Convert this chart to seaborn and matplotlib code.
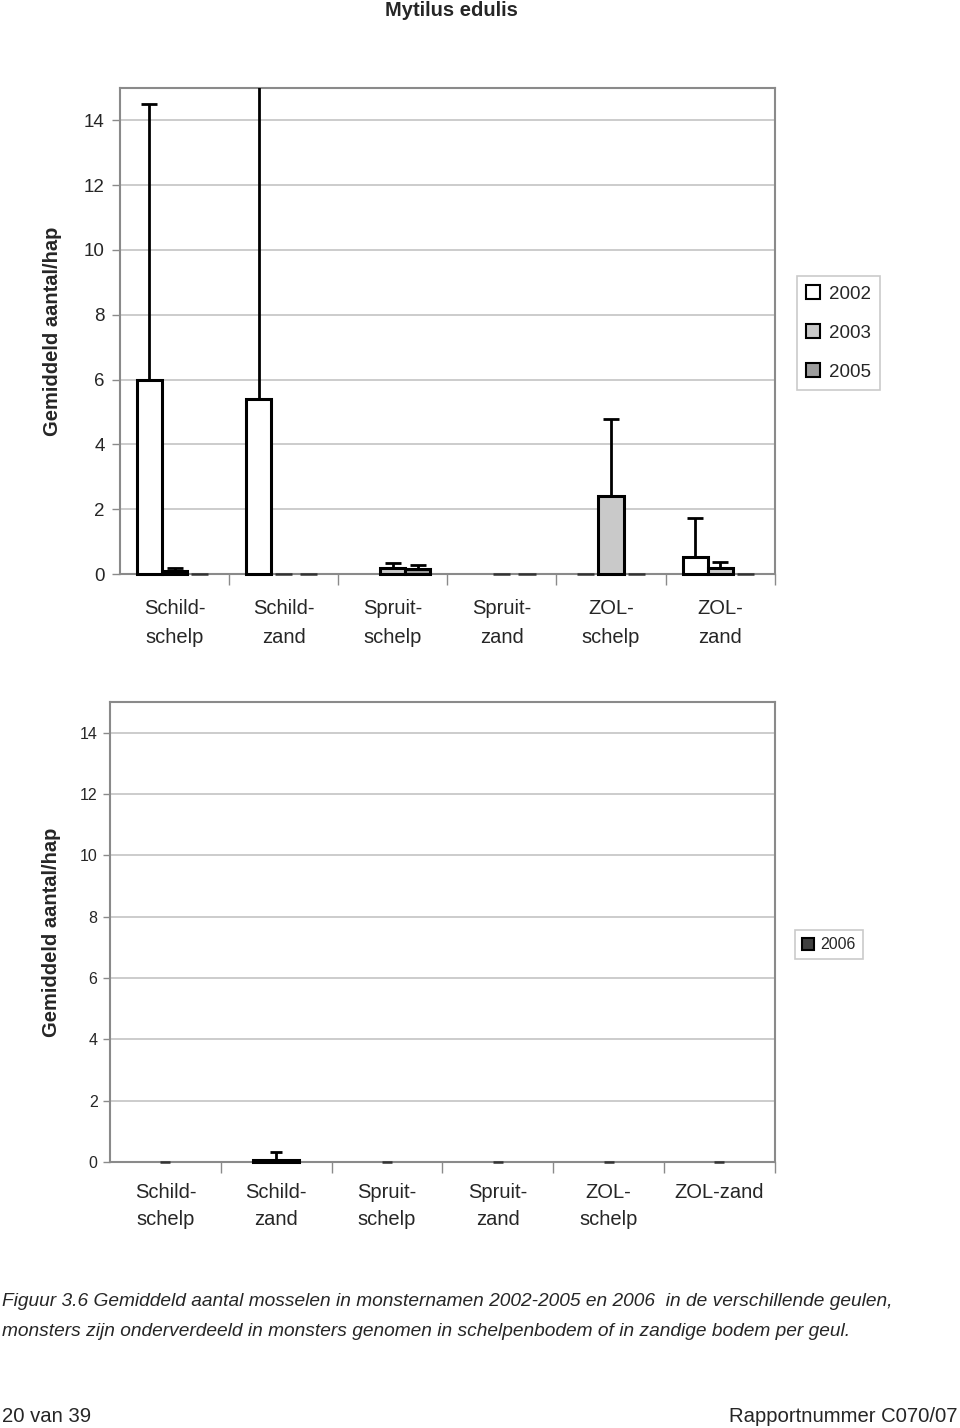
import numpy as np
import pandas as pd
import matplotlib
matplotlib.use("Agg")
import matplotlib.pyplot as plt
from matplotlib.patches import Patch
from matplotlib import font_manager
import seaborn as sns

# ---------------- data ----------------
categories = ["Schild-\nschelp", "Schild-\nzand", "Spruit-\nschelp", "Spruit-\nzand", "ZOL-\nschelp", "ZOL-\nzand"]
categories_2006 = ["Schild-\nschelp", "Schild-\nzand", "Spruit-\nschelp", "Spruit-\nzand", "ZOL-\nschelp", "ZOL-zand"]
years = ["2002", "2003", "2005"]

mean_2002 = [6.0, 5.4, np.nan, np.nan, 0.0, 0.52]
mean_2003 = [0.08, 0.0, 0.20, 0.0, 2.42, 0.20]
mean_2005 = [0.0, 0.0, 0.15, 0.0, 0.0, 0.0]
upper_2002 = [14.5, 17.0, np.nan, np.nan, np.nan, 1.72]
upper_2003 = [0.20, np.nan, 0.33, np.nan, 4.78, 0.38]
upper_2005 = [np.nan, np.nan, 0.27, np.nan, np.nan, np.nan]

mean_2006 = [0.0, 0.07, 0.0, 0.0, 0.0, 0.0]
upper_2006 = [np.nan, 0.33, np.nan, np.nan, np.nan, np.nan]

yticks = [0, 2, 4, 6, 8, 10, 12, 14]

colors = {"2002": "#ffffff", "2003": "#c9c9c9", "2005": "#9d9d9d"}
color_2006 = "#3f3f3f"

# ---------------- fonts ----------------
sns.set_style("white")
avail = {f.name for f in font_manager.fontManager.ttflist}
main_font = "Liberation Sans" if "Liberation Sans" in avail else "DejaVu Sans"
narrow_font = "Liberation Sans Narrow" if "Liberation Sans Narrow" in avail else main_font
plt.rcParams["font.family"] = [main_font, "DejaVu Sans"]

fig = plt.figure(figsize=(9.6, 14.28), dpi=100)

means = {"2002": mean_2002, "2003": mean_2003, "2005": mean_2005}
uppers = {"2002": upper_2002, "2003": upper_2003, "2005": upper_2005}
rows = []
for y in years:
    for c, v in zip(categories, means[y]):
        rows.append({"cat": c, "year": y, "val": v})
df = pd.DataFrame(rows)

df6 = pd.DataFrame({"cat": categories_2006, "val": mean_2006})


def style_axes(ax, ncat, ytick_size, ypad, ylen, xpad, lspace, zero_frac):
    ax.set_ylim(0, 15)
    ax.set_xlim(-0.5, ncat - 0.5)
    ax.set_yticks(yticks)
    ax.yaxis.grid(True, color="#c4c4c4", linewidth=1.2)
    ax.set_axisbelow(True)
    for s in ax.spines.values():
        s.set_visible(True)
        s.set_color("#8a8a8a")
        s.set_linewidth(1.5)
    ax.tick_params(axis="y", which="major", length=ylen, width=1, color="#8a8a8a",
                   labelsize=ytick_size, pad=ypad, left=True)
    ax.set_xticks(np.arange(ncat) + 0.5, minor=True)
    ax.tick_params(axis="x", which="minor", length=8, width=1, color="#8a8a8a", bottom=True)
    ax.tick_params(axis="x", which="major", length=0, labelsize=14.5, pad=xpad)
    for lab in ax.get_xticklabels():
        lab.set_linespacing(lspace)
    ax.set_xlabel("")
    for p in ax.patches:
        p.set_zorder(3)
        p.set_clip_on(False)
        h = p.get_height()
        if not np.isnan(h) and h == 0:
            # zero values show as a short dash, as in the original
            w = p.get_width()
            p.set_x(p.get_x() + w * (1 - zero_frac) / 2)
            p.set_width(w * zero_frac)
            p.set_linewidth(1.8)
            p.set_edgecolor("#333333")


def add_errbars(ax, container, ups, cap):
    for bar in container:
        cx = bar.get_x() + bar.get_width() / 2
        idx = int(round(cx))
        h = bar.get_height()
        up = ups[idx]
        if np.isnan(h) or np.isnan(up):
            continue
        ax.errorbar([cx], [h], yerr=[[0], [up - h]], fmt="none", ecolor="black",
                    elinewidth=2, capsize=cap, capthick=2, zorder=5)


# ---------------- top chart ----------------
ax1 = fig.add_axes([0.125, 0.598, 0.682, 0.3404])
sns.barplot(data=df, x="cat", y="val", hue="year", order=categories, hue_order=years,
            palette=colors, width=0.69, edgecolor="black", linewidth=2.2,
            errorbar=None, legend=False, ax=ax1, saturation=1)
for cont, y in zip(ax1.containers, years):
    add_errbars(ax1, cont, uppers[y], 6)
style_axes(ax1, len(categories), 13.5, 5, 6, 18, 1.65, 0.68)
ax1.set_ylabel("Gemiddeld aantal/hap", fontsize=14.5, fontweight="bold")
ax1.yaxis.set_label_coords(-0.089, 0.5)
handles = [Patch(facecolor=colors[y], edgecolor="black", linewidth=1.5, label=y) for y in years]
leg = ax1.legend(handles=handles, loc="upper left", bbox_to_anchor=(1.034, 0.613),
                 borderaxespad=0, frameon=True, fancybox=False, fontsize=13.5,
                 handlelength=0.75, handleheight=0.75, handletextpad=0.45,
                 labelspacing=1.15, borderpad=0.5)
leg.get_frame().set_edgecolor("#bdbdbd")
leg.get_frame().set_linewidth(1.2)

# ---------------- bottom chart ----------------
ax2 = fig.add_axes([0.1146, 0.1863, 0.6924, 0.3222])
sns.barplot(data=df6, x="cat", y="val", order=categories_2006, color=color_2006,
            width=0.41, edgecolor="black", linewidth=2.2, errorbar=None, ax=ax2,
            saturation=1)
add_errbars(ax2, ax2.containers[0], upper_2006, 4)
style_axes(ax2, len(categories_2006), 11.5, 4, 5, 15, 1.55, 0.22)
ax2.set_ylabel("Gemiddeld aantal/hap", fontsize=14.5, fontweight="bold")
ax2.yaxis.set_label_coords(-0.073, 0.5)
h6 = [Patch(facecolor=color_2006, edgecolor="black", linewidth=1.5, label="2006")]
leg2 = ax2.legend(handles=h6, loc="upper left", bbox_to_anchor=(1.03, 0.504),
                  borderaxespad=0, frameon=True, fancybox=False, fontsize=11.5,
                  handlelength=0.75, handleheight=0.75, handletextpad=0.4,
                  borderpad=0.45)
leg2.get_frame().set_edgecolor("#bdbdbd")
leg2.get_frame().set_linewidth(1.2)

# ---------------- texts ----------------
fig.text(0.47, 1 - 10 / 1428, "Mytilus edulis", ha="center", va="center", fontsize=14.5,
         fontweight="bold")

cap1 = "Figuur 3.6 Gemiddeld aantal mosselen in monsternamen 2002-2005 en 2006  in de verschillende geulen,"
cap2 = "monsters zijn onderverdeeld in monsters genomen in schelpenbodem of in zandige bodem per geul."
capsize = 15 if narrow_font != main_font else 13.8
fig.text(0.002, 1 - 1302 / 1428, cap1, ha="left", va="center", fontsize=capsize,
         style="italic", family=[narrow_font, "DejaVu Sans"])
fig.text(0.002, 1 - 1331 / 1428, cap2, ha="left", va="center", fontsize=capsize,
         style="italic", family=[narrow_font, "DejaVu Sans"])
pgsize = 16 if narrow_font != main_font else 14.6
fig.text(0.002, 1 - 1416 / 1428, "20 van 39", ha="left", va="center", fontsize=pgsize,
         family=[narrow_font, "DejaVu Sans"])
fig.text(0.997, 1 - 1416 / 1428, "Rapportnummer C070/07", ha="right", va="center",
         fontsize=pgsize, family=[narrow_font, "DejaVu Sans"])

fig.savefig("out.png", dpi=100, facecolor="white")
